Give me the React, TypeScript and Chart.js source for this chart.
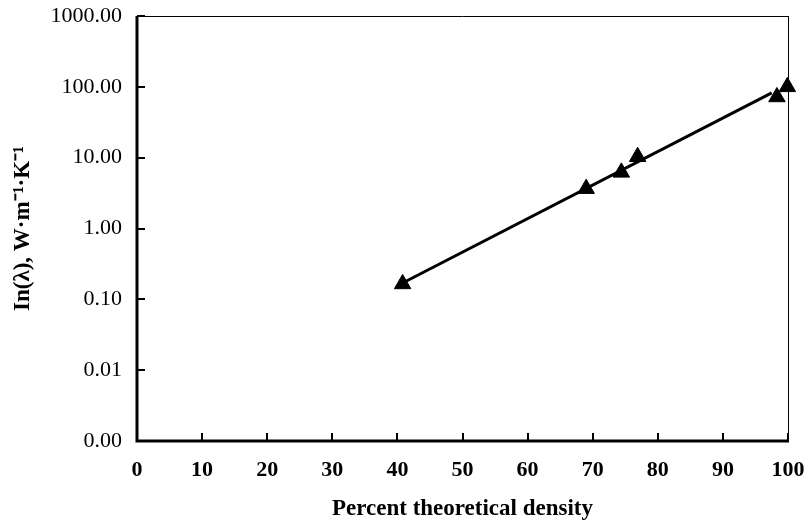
import React, { useEffect, useRef } from "react";
import { Chart, registerables } from "chart.js";

Chart.register(...registerables);

const density = [40.8, 69.0, 74.4, 76.9, 98.3, 99.9];
const conductivity = [0.165, 3.65, 6.2, 10.3, 72, 100];
const fitX = [40.8, 97.5];
const fitY = [0.17, 82];
const yTicks = [0.001, 0.01, 0.1, 1, 10, 100, 1000];
const xTicks = [0, 10, 20, 30, 40, 50, 60, 70, 80, 90, 100];

const FONT = "'Liberation Serif', 'Times New Roman', serif";

const framePlugin = {
  id: "frame",
  afterDatasetsDraw(chart: any) {
    const { ctx, chartArea: a, scales } = chart;
    ctx.save();
    ctx.strokeStyle = "#000";
    ctx.lineCap = "butt";
    ctx.lineWidth = 1;
    ctx.beginPath();
    ctx.moveTo(a.left, a.top + 0.5);
    ctx.lineTo(a.right, a.top + 0.5);
    ctx.moveTo(a.right + 0.5, a.top);
    ctx.lineTo(a.right + 0.5, a.bottom);
    ctx.stroke();
    ctx.lineWidth = 3;
    ctx.beginPath();
    ctx.moveTo(a.left, a.top);
    ctx.lineTo(a.left, a.bottom + 1.5);
    ctx.moveTo(a.left - 1.5, a.bottom);
    ctx.lineTo(a.right + 1, a.bottom);
    ctx.stroke();
    ctx.lineWidth = 2;
    ctx.beginPath();
    for (const v of xTicks) {
      const px = Math.round(scales.x.getPixelForValue(v));
      ctx.moveTo(px, a.bottom);
      ctx.lineTo(px, a.bottom - 8);
    }
    for (const v of yTicks) {
      const py = Math.round(scales.y.getPixelForValue(v));
      ctx.moveTo(a.left, py);
      ctx.lineTo(a.left + 8, py);
    }
    ctx.stroke();
    ctx.restore();
  },
};

export default function App() {
  const ref = useRef<HTMLCanvasElement>(null);
  useEffect(() => {
    document.body.style.margin = "0";
    const chart = new Chart(ref.current!, {
      type: "scatter",
      data: {
        datasets: [
          {
            label: "fit",
            data: fitX.map((x, i) => ({ x, y: fitY[i] })),
            showLine: true,
            borderColor: "#000",
            borderWidth: 3,
            pointRadius: 0,
            order: 2,
          },
          {
            label: "measured",
            data: density.map((x, i) => ({ x, y: conductivity[i] })),
            pointStyle: "triangle",
            pointRadius: 9.5,
            backgroundColor: "#000",
            borderColor: "#000",
            borderWidth: 1,
            clip: false,
            order: 1,
          },
        ],
      },
      plugins: [framePlugin],
      options: {
        animation: false,
        responsive: false,
        layout: { padding: { left: 0, top: 16, right: 18, bottom: 0 } },
        plugins: { legend: { display: false }, tooltip: { enabled: false } },
        scales: {
          x: {
            type: "linear",
            min: 0,
            max: 100,
            afterBuildTicks: (s: any) => {
              s.ticks = xTicks.map((v) => ({ value: v }));
            },
            afterFit: (s: any) => {
              s.height = 84;
              s.paddingLeft = 0;
              s.paddingRight = 0;
            },
            grid: { display: false, drawTicks: false },
            border: { display: false },
            ticks: {
              padding: 16,
              color: "#000",
              maxRotation: 0,
              font: { family: FONT, size: 22, weight: "bold" },
            },
            title: {
              display: true,
              text: "Percent theoretical density",
              color: "#000",
              font: { family: FONT, size: 23, weight: "bold" },
              padding: { top: 0, bottom: 2 },
            },
          },
          y: {
            type: "logarithmic",
            min: 0.001,
            max: 1000,
            afterBuildTicks: (s: any) => {
              s.ticks = yTicks.map((v) => ({ value: v }));
            },
            afterFit: (s: any) => {
              s.width = 137;
              s.paddingTop = 0;
              s.paddingBottom = 0;
            },
            grid: { display: false, drawTicks: false },
            border: { display: false },
            ticks: {
              padding: 15,
              color: "#000",
              font: { family: FONT, size: 22 },
              callback: (v: any) => Number(v).toFixed(2),
            },
            title: {
              display: true,
              text: "In(λ), W·m⁻¹·K⁻¹",
              color: "#000",
              font: { family: FONT, size: 23, weight: "bold" },
              padding: { top: 9, bottom: 0 },
            },
          },
        },
      },
    } as any);
    return () => chart.destroy();
  }, []);
  return (
    <div style={{ width: 806, height: 525 }}>
      <canvas ref={ref} width={806} height={525} style={{ display: "block" }} />
    </div>
  );
}
